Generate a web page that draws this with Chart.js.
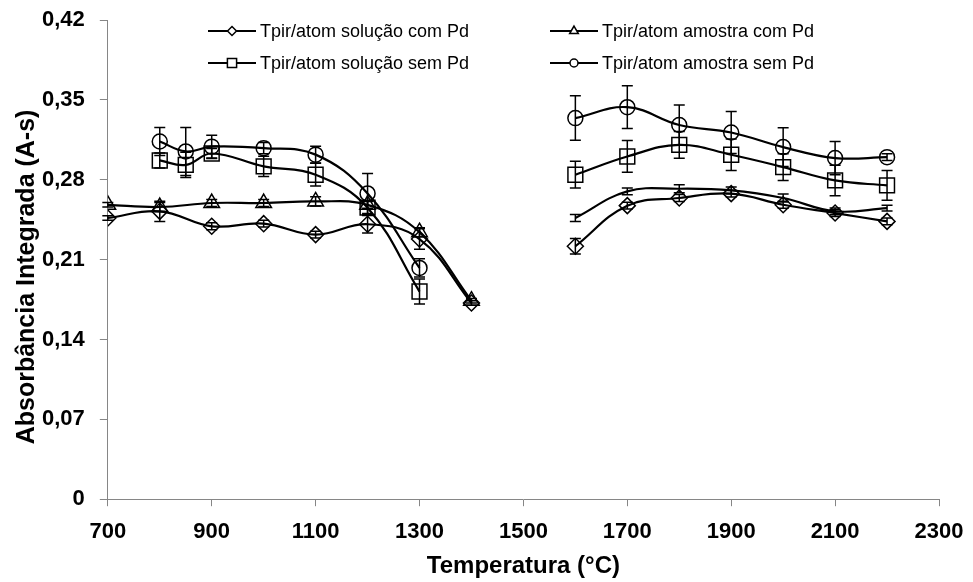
<!DOCTYPE html>
<html lang="pt-br">
<head>
<meta charset="utf-8">
<title>Absorbância integrada x temperatura</title>
<script src="https://cdn.jsdelivr.net/npm/chart.js"></script>
<style>
  body { margin: 0; background: #fff; }
</style>
</head>
<body>
<canvas id="grafico" width="973" height="582"></canvas>
<script>
  // temperaturas (°C) - 1500 fica vazio para quebrar a linha
  var tempComPd = [700, 800, 900, 1000, 1100, 1200, 1300, 1400, 1500, 1600, 1700, 1800, 1900, 2000, 2100, 2200];
  var tempSemPd = [800, 850, 900, 1000, 1100, 1200, 1300, 1500, 1600, 1700, 1800, 1900, 2000, 2100, 2200];

  // absorbância integrada (A-s) e desvios
  var solucaoComPd = [0.2465, 0.2523, 0.2392, 0.2415, 0.2319, 0.2410, 0.2280, 0.1720, null, 0.2217, 0.2573, 0.2640, 0.2678, 0.2581, 0.2508, 0.2435];
  var erroSolucaoComPd = [0.002, 0.0088, 0.003, 0.003, 0.003, 0.0076, 0.009, 0.002, null, 0.0068, 0.003, 0.003, 0.003, 0.003, 0.003, 0.003];

  var amostraComPd = [0.2580, 0.2561, 0.2596, 0.2596, 0.2610, 0.2580, 0.2340, 0.1740, null, 0.2465, 0.2698, 0.2721, 0.2707, 0.2640, 0.2523, 0.2552];
  var erroAmostraComPd = [0.002, 0.004, 0.003, 0.003, 0.004, 0.003, 0.004, 0.002, null, 0.003, 0.003, 0.0036, 0.003, 0.0035, 0.003, 0.0025];

  var solucaoSemPd = [0.2969, 0.2930, 0.3030, 0.2917, 0.2844, 0.2555, 0.1820, null, 0.2844, 0.3004, 0.3106, 0.3019, 0.2911, 0.2794, 0.2750];
  var erroSolucaoSemPd = [0.0066, 0.011, 0.0044, 0.0088, 0.010, 0.006, 0.011, null, 0.0117, 0.0139, 0.0117, 0.0137, 0.0117, 0.0134, 0.013];

  var amostraSemPd = [0.3135, 0.3048, 0.3090, 0.3077, 0.3020, 0.2680, 0.2027, null, 0.3340, 0.3436, 0.3280, 0.3214, 0.3086, 0.2990, 0.2998];
  var erroAmostraSemPd = [0.0123, 0.021, 0.010, 0.005, 0.0073, 0.0175, 0.008, null, 0.0195, 0.0187, 0.0175, 0.0184, 0.017, 0.0146, 0.003];

  var nomesSeries = ['Tpir/atom solução com Pd', 'Tpir/atom amostra com Pd', 'Tpir/atom solução sem Pd', 'Tpir/atom amostra sem Pd'];

  // eixos
  var xTicks = [700, 900, 1100, 1300, 1500, 1700, 1900, 2100, 2300];
  var yTicks = [0, 0.07, 0.14, 0.21, 0.28, 0.35, 0.42];
  var yTickLabels = ['0', '0,07', '0,14', '0,21', '0,28', '0,35', '0,42'];

  var fonte = "'Liberation Sans', Arial, sans-serif";

  function montarPontos(temps, valores, erros) {
    var pontos = [];
    for (var i = 0; i < temps.length; i++) {
      pontos.push({ x: temps[i], y: valores[i], erro: erros[i] });
    }
    return pontos;
  }

  function serie(indice, temps, valores, erros, estilo, raio) {
    return {
      label: nomesSeries[indice],
      data: montarPontos(temps, valores, erros),
      borderColor: '#000',
      borderWidth: 2.2,
      tension: 0.4,
      fill: false,
      pointStyle: estilo,
      pointRadius: raio,
      pointBorderColor: '#000',
      pointBackgroundColor: 'rgba(0,0,0,0)',
      pointBorderWidth: 1.5
    };
  }

  // barras de erro verticais, desenhadas pela escala y
  var barrasErro = {
    id: 'barrasErro',
    afterDatasetsDraw: function (chart) {
      var ctx = chart.ctx;
      var escalaY = chart.scales.y;
      ctx.save();
      ctx.strokeStyle = '#000';
      ctx.lineWidth = 1.5;
      chart.data.datasets.forEach(function (ds, d) {
        var meta = chart.getDatasetMeta(d);
        ds.data.forEach(function (p, i) {
          if (p.y == null || p.erro == null) return;
          var x = meta.data[i].x;
          var yTopo = escalaY.getPixelForValue(p.y + p.erro);
          var yBase = escalaY.getPixelForValue(p.y - p.erro);
          ctx.beginPath();
          ctx.moveTo(x, yTopo);
          ctx.lineTo(x, yBase);
          ctx.moveTo(x - 5.5, yTopo);
          ctx.lineTo(x + 5.5, yTopo);
          ctx.moveTo(x - 5.5, yBase);
          ctx.lineTo(x + 5.5, yBase);
          ctx.stroke();
        });
      });
      ctx.restore();
    }
  };

  // legenda em duas colunas, como no original
  var legendaDuasColunas = {
    id: 'legendaDuasColunas',
    afterDraw: function (chart) {
      var ctx = chart.ctx;
      var posicoes = [[208, 31], [550, 31], [208, 63], [550, 63]];
      var raios = [4.5, 5, 6.5, 4];
      ctx.save();
      chart.data.datasets.forEach(function (ds, d) {
        var px = posicoes[d][0];
        var py = posicoes[d][1];
        ctx.strokeStyle = '#000';
        ctx.lineWidth = 2;
        ctx.beginPath();
        ctx.moveTo(px, py);
        ctx.lineTo(px + 48, py);
        ctx.stroke();
        ctx.fillStyle = '#fff';
        ctx.lineWidth = 1.5;
        Chart.helpers.drawPoint(ctx, { pointStyle: ds.pointStyle, radius: raios[d], borderWidth: 1.5, rotation: 0 }, px + 24, py);
        ctx.fillStyle = '#000';
        ctx.font = '18px ' + fonte;
        ctx.textBaseline = 'middle';
        ctx.textAlign = 'left';
        ctx.fillText(ds.label, px + 52, py + 1);
      });
      ctx.restore();
    }
  };

  var dados = {
    datasets: [
      serie(0, tempComPd, solucaoComPd, erroSolucaoComPd, 'rectRot', 8),
      Object.assign(serie(1, tempComPd, amostraComPd, erroAmostraComPd, 'triangle', 9), {
        pointRadius: function (c) { return c.raw && c.raw.x > 1500 ? 0 : 9; }
      }),
      serie(2, tempSemPd, solucaoSemPd, erroSolucaoSemPd, 'rect', 10.5),
      serie(3, tempSemPd, amostraSemPd, erroAmostraSemPd, 'circle', 7.5)
    ]
  };

  var config = {
    type: 'line',
    data: dados,
    options: {
      responsive: false,
      animation: false,
      layout: { padding: { top: 20, right: 34, left: 0, bottom: 0 } },
      plugins: {
        legend: { display: false },
        tooltip: { enabled: false }
      },
      scales: {
        x: {
          type: 'linear',
          min: 700,
          max: 2300,
          afterBuildTicks: function (axis) {
            axis.ticks = xTicks.map(function (v) { return { value: v }; });
          },
          afterFit: function (axis) {
            axis.paddingLeft = 0;
            axis.paddingRight = 0;
          },
          ticks: {
            autoSkip: false,
            maxRotation: 0,
            padding: 13,
            color: '#000',
            font: { family: fonte, size: 22, weight: 'bold' },
            callback: function (valor) { return String(valor); }
          },
          grid: { drawOnChartArea: false, color: '#868686', tickLength: 7 },
          border: { color: '#868686', width: 1 },
          title: {
            display: true,
            text: 'Temperatura (°C)',
            color: '#000',
            font: { family: fonte, size: 24, weight: 'bold' },
            padding: { top: -7, bottom: 1.6 }
          }
        },
        y: {
          min: 0,
          max: 0.42,
          afterBuildTicks: function (axis) {
            axis.ticks = yTicks.map(function (v) { return { value: v }; });
          },
          afterFit: function (axis) {
            axis.paddingTop = 0;
            axis.paddingBottom = 0;
          },
          ticks: {
            padding: 15,
            color: '#000',
            font: { family: fonte, size: 22, weight: 'bold' },
            callback: function (valor, i) { return yTickLabels[i]; }
          },
          grid: { drawOnChartArea: false, color: '#868686', tickLength: 8 },
          border: { color: '#868686', width: 1 },
          title: {
            display: true,
            text: 'Absorbância Integrada (A-s)     ',
            color: '#000',
            font: { family: fonte, size: 25, weight: 'bold' },
            padding: { top: 12, bottom: -15 }
          }
        }
      }
    },
    plugins: [barrasErro, legendaDuasColunas]
  };

  var meuGrafico = new Chart(document.getElementById('grafico'), config);
</script>
</body>
</html>
